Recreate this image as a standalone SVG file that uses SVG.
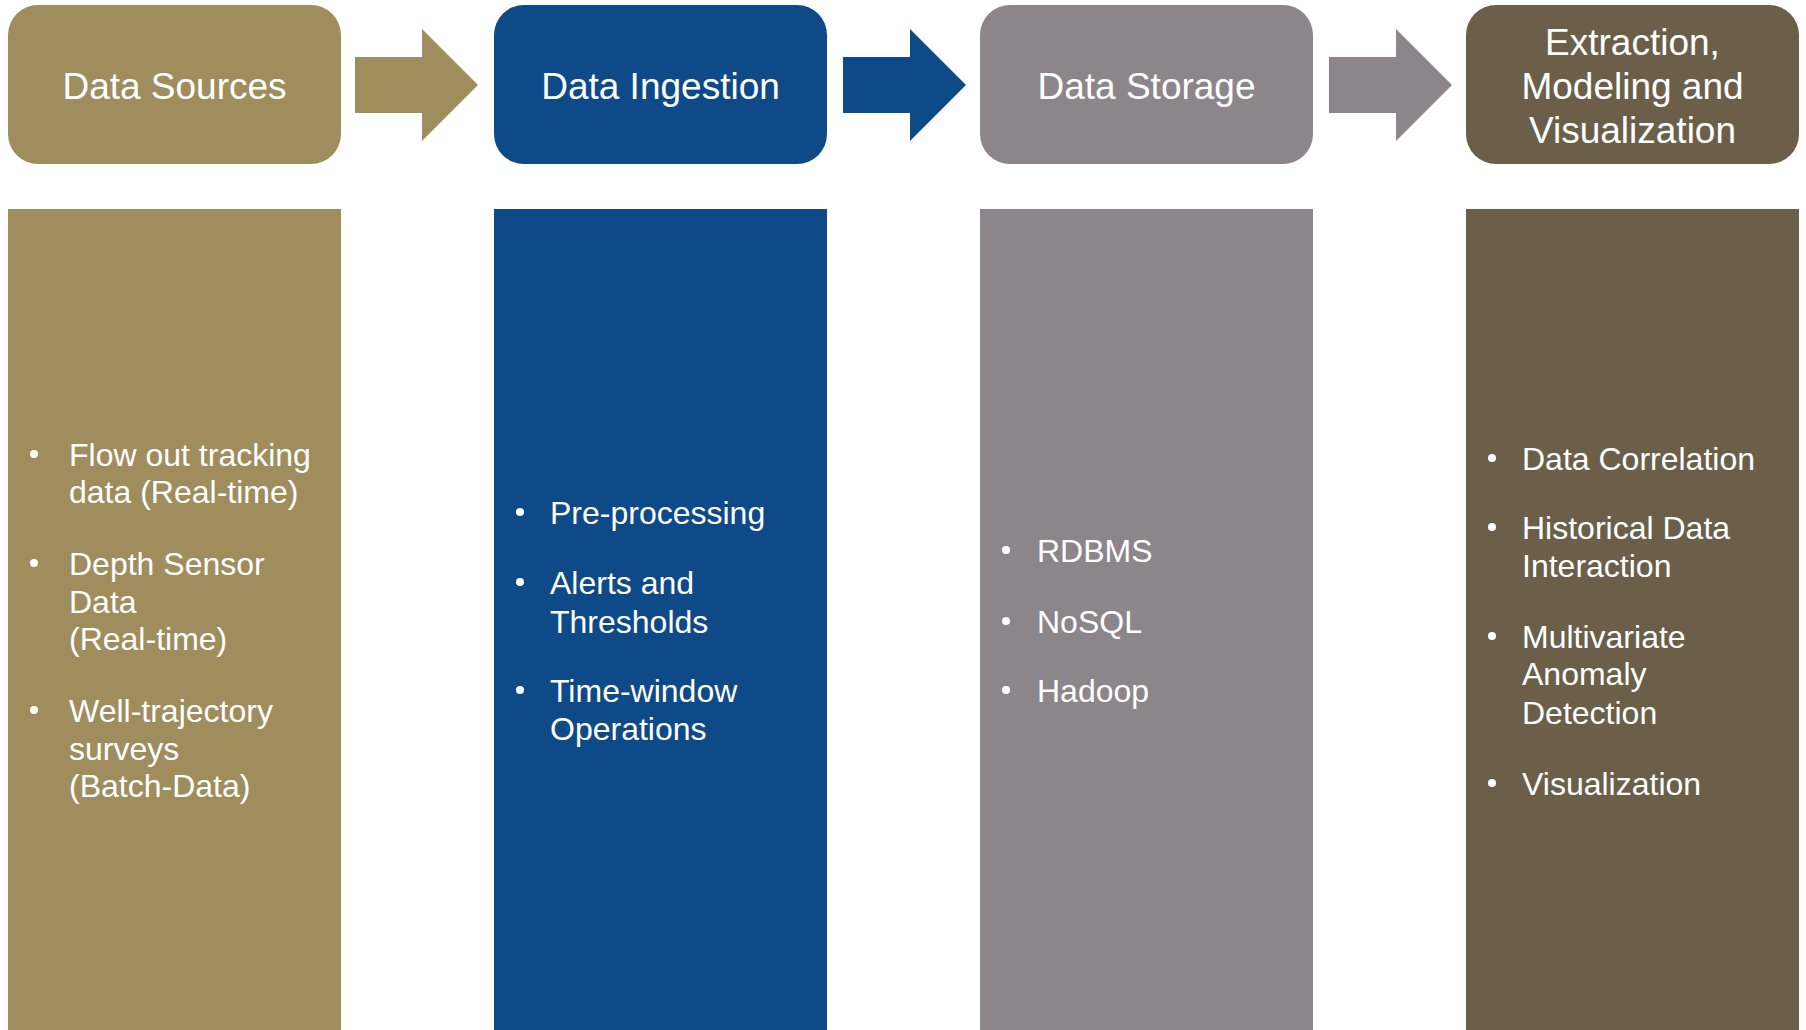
<svg xmlns="http://www.w3.org/2000/svg" width="1806" height="1030" viewBox="0 0 1806 1030">
<style>
.hd{font-family:"Liberation Sans",Arial,sans-serif;font-size:37px;fill:#fff;text-anchor:middle}
.bt{font-family:"Liberation Sans",Arial,sans-serif;font-size:32px;fill:#fff}
.b{fill:#fff}
.c1{fill:#9F8D5D}.c2{fill:#0E4A88}.c3{fill:#8C868B}.c4{fill:#6B5F49}
</style>
<defs>
<path id="arr" d="M0,57 H67 V29 L123,85 L67,141 V113 H0 Z"/>
</defs>
<rect width="1806" height="1030" fill="#fff"/>
<g id="connectors">
<use href="#arr" x="355" class="c1"/>
<use href="#arr" x="843" class="c2"/>
<use href="#arr" x="1329" class="c3"/>
</g>
<g id="data-sources">
<rect class="c1" x="8" y="5" width="333" height="159" rx="30"/>
<text class="hd" x="174.5" y="99">Data Sources</text>
<rect class="c1" x="8" y="209" width="333" height="821"/>
<circle class="b" cx="34" cy="454" r="4"/>
<circle class="b" cx="34" cy="563" r="4"/>
<circle class="b" cx="34" cy="710" r="4"/>
<text class="bt"><tspan x="69" y="466">Flow out tracking</tspan><tspan x="69" y="503">data (Real-time)</tspan><tspan x="69" y="575">Depth Sensor</tspan><tspan x="69" y="613">Data</tspan><tspan x="69" y="650">(Real-time)</tspan><tspan x="69" y="722">Well-trajectory</tspan><tspan x="69" y="760">surveys</tspan><tspan x="69" y="797">(Batch-Data)</tspan></text>
</g>
<g id="data-ingestion">
<rect class="c2" x="494" y="5" width="333" height="159" rx="30"/>
<text class="hd" x="660.5" y="99">Data Ingestion</text>
<rect class="c2" x="494" y="209" width="333" height="821"/>
<circle class="b" cx="520" cy="512" r="4"/>
<circle class="b" cx="520" cy="582" r="4"/>
<circle class="b" cx="520" cy="690" r="4"/>
<text class="bt"><tspan x="550" y="524">Pre-processing</tspan><tspan x="550" y="594">Alerts and</tspan><tspan x="550" y="633">Thresholds</tspan><tspan x="550" y="702">Time-window</tspan><tspan x="550" y="740">Operations</tspan></text>
</g>
<g id="data-storage">
<rect class="c3" x="980" y="5" width="333" height="159" rx="30"/>
<text class="hd" x="1146.5" y="99">Data Storage</text>
<rect class="c3" x="980" y="209" width="333" height="821"/>
<circle class="b" cx="1006" cy="550" r="4"/>
<circle class="b" cx="1006" cy="621" r="4"/>
<circle class="b" cx="1006" cy="690" r="4"/>
<text class="bt"><tspan x="1037" y="562">RDBMS</tspan><tspan x="1037" y="633">NoSQL</tspan><tspan x="1037" y="702">Hadoop</tspan></text>
</g>
<g id="extraction">
<rect class="c4" x="1466" y="5" width="333" height="159" rx="30"/>
<text class="hd"><tspan x="1632.5" y="55">Extraction,</tspan><tspan x="1632.5" y="99">Modeling and</tspan><tspan x="1632.5" y="143">Visualization</tspan></text>
<rect class="c4" x="1466" y="209" width="333" height="821"/>
<circle class="b" cx="1492" cy="458" r="4"/>
<circle class="b" cx="1492" cy="527" r="4"/>
<circle class="b" cx="1492" cy="636" r="4"/>
<circle class="b" cx="1492" cy="783" r="4"/>
<text class="bt"><tspan x="1522" y="470">Data Correlation</tspan><tspan x="1522" y="539">Historical Data</tspan><tspan x="1522" y="577">Interaction</tspan><tspan x="1522" y="648">Multivariate</tspan><tspan x="1522" y="685">Anomaly</tspan><tspan x="1522" y="724">Detection</tspan><tspan x="1522" y="795">Visualization</tspan></text>
</g>
</svg>
